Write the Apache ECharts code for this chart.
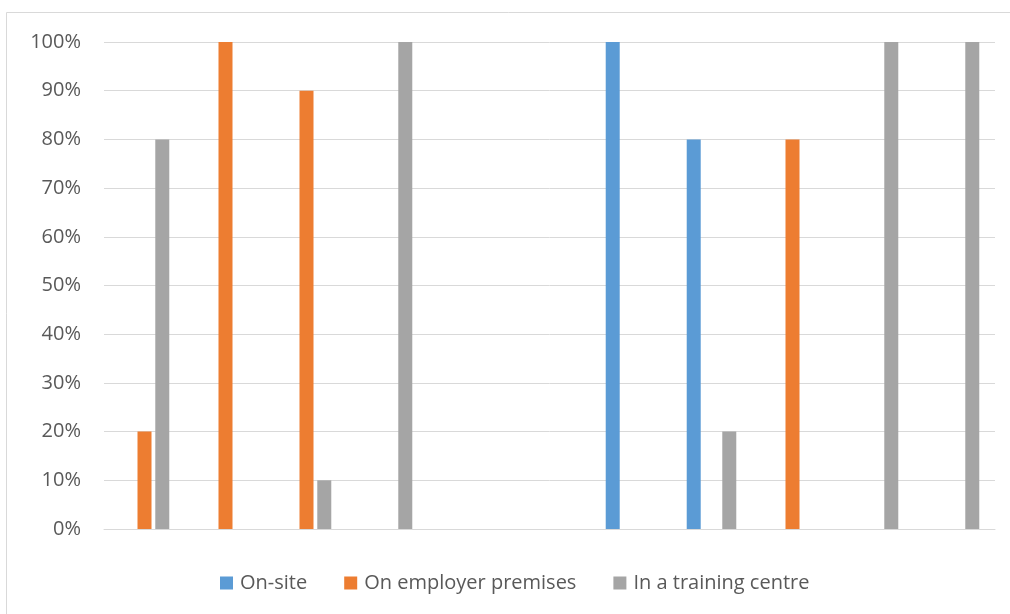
<!DOCTYPE html>
<html>
<head>
<meta charset="utf-8">
<style>
  html, body { margin: 0; padding: 0; background: #ffffff; }
  #chart { width: 1010px; height: 614px; }
</style>
<script src="https://cdn.jsdelivr.net/npm/echarts@6/dist/echarts.min.js"></script>
</head>
<body>
<div id="chart"></div>
<script>
// Categories (unlabelled in the original chart)
const categories = ['C1', 'C2', 'C3', 'C4', 'C5', 'C6', 'C7', 'C8', 'C9', 'C10', 'C11'];
const seriesNames = ['On-site', 'On employer premises', 'In a training centre'];
const onSite           = [null, null, null, null, null, null, 100, 80, null, null, null];
const onEmployer       = [20, 100, 90, null, null, null, null, null, 80, null, null];
const inTrainingCentre = [80, null, 10, 100, null, null, null, 20, null, 100, 100];
const yTicks = [0, 10, 20, 30, 40, 50, 60, 70, 80, 90, 100];

const colors = ['#5B9BD5', '#ED7D31', '#A5A5A5'];
const font = 'Open Sans';

const chart = echarts.init(document.getElementById('chart'), null, { renderer: 'canvas' });
const values = [onSite, onEmployer, inTrainingCentre];

chart.setOption({
  animation: false,
  backgroundColor: '#ffffff',
  graphic: [{
    type: 'rect',
    shape: { x: 6.5, y: 12.5, width: 1100, height: 700 },
    style: { fill: 'none', stroke: '#d9d9d9', lineWidth: 1 },
    silent: true
  }],
  grid: { left: 104, right: 15, top: 42, bottom: 85, containLabel: false },
  legend: {
    left: 215,
    top: 568,
    itemWidth: 13,
    itemHeight: 13,
    itemGap: 37,
    icon: 'rect',
    data: seriesNames,
    textStyle: { fontFamily: font, fontSize: 20, color: '#595959', lineHeight: 20, padding: [0, 0, 0, 2] }
  },
  xAxis: {
    type: 'category',
    data: categories,
    axisLine: { show: true, lineStyle: { color: '#d9d9d9', width: 1 } },
    axisTick: { show: false },
    axisLabel: { show: false },
    splitLine: { show: false }
  },
  yAxis: {
    type: 'value',
    min: yTicks[0],
    max: yTicks[yTicks.length - 1],
    interval: 10,
    axisLine: { show: false },
    axisTick: { show: false },
    axisLabel: {
      formatter: '{value}%',
      fontFamily: font,
      fontSize: 20,
      color: '#595959',
      margin: 23
    },
    splitLine: { lineStyle: { color: '#d9d9d9', width: 1 } }
  },
  series: seriesNames.map((name, i) => ({
    name: name,
    type: 'bar',
    data: values[i],
    barWidth: 14,
    barGap: '27%',
    itemStyle: { color: colors[i] }
  }))
});
</script>
</body>
</html>
